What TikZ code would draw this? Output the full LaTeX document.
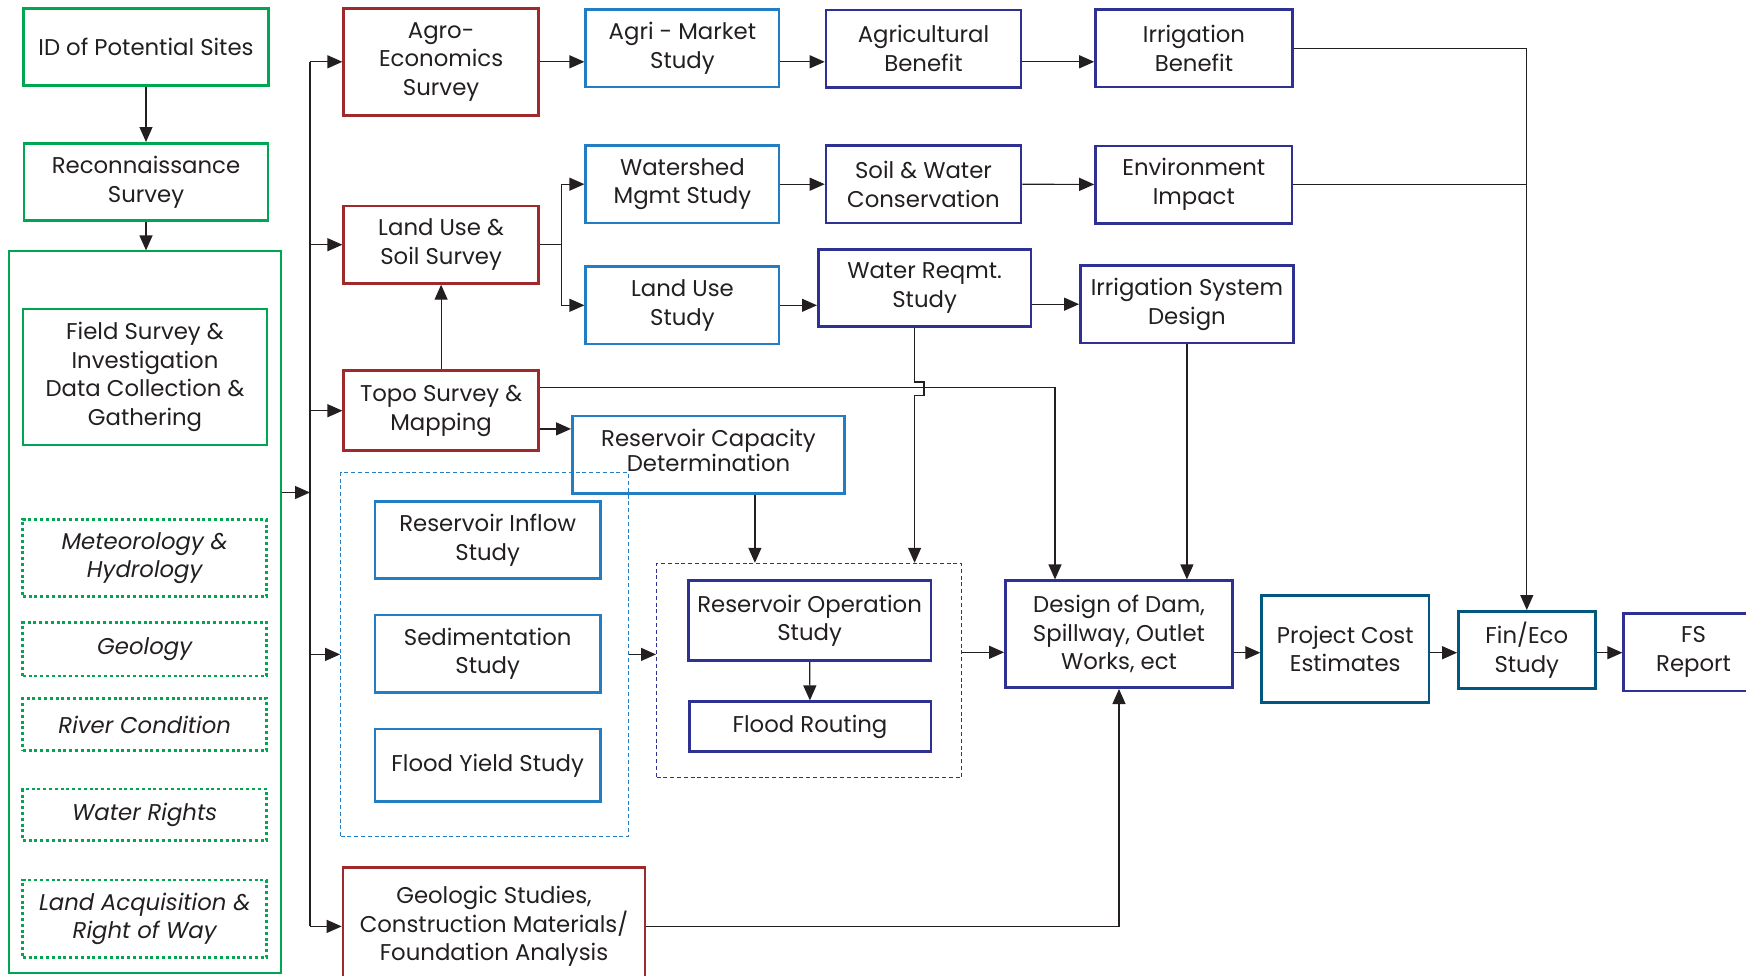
\documentclass[tikz,border=0pt]{standalone}
\usepackage{fontspec}
\setmainfont{Poppins}
\usetikzlibrary{arrows.meta}

\definecolor{sitegreen}{RGB}{0,166,81}
\definecolor{survred}{RGB}{158,42,43}
\definecolor{studyblue}{RGB}{35,125,195}
\definecolor{resultblue}{RGB}{46,49,146}
\definecolor{costteal}{RGB}{0,88,128}
\definecolor{linegray}{RGB}{35,31,32}

\tikzset{
  procbox/.style={draw, line width=1.3pt, align=center, inner sep=0pt, text=linegray,
    font=\fontsize{11.4}{14.3}\selectfont, minimum width=97.4pt, minimum height=38.7pt},
  sitebox/.style={procbox, draw=sitegreen, minimum width=122pt},
  databox/.style={sitebox, dash pattern=on 1.5pt off 1.4pt, font=\fontsize{11.4}{14.3}\selectfont\itshape},
  survbox/.style={procbox, draw=survred},
  studybox/.style={procbox, draw=studyblue},
  resultbox/.style={procbox, draw=resultblue},
  costbox/.style={procbox, draw=costteal},
  groupbox/.style={draw, line width=0.5pt, inner sep=0pt, dash pattern=on 2pt off 1.4pt},
  ln/.style={draw=linegray, line width=0.6pt},
  arr/.style={ln, -{Triangle[length=7.5pt,width=6.5pt]}}
}

\begin{document}
\begin{tikzpicture}[x=0.5pt,y=-0.5pt]
\useasboundingbox (0,0) rectangle (1746,975);
% site identification and field data
\node[sitebox, minimum width=122.5pt] (idsites) at (146,47) {ID of Potential Sites};
\node[sitebox] (recon) at (146,182) {Reconnaissance\\Survey};
\node[draw=sitegreen, line width=0.6pt, minimum width=136pt, minimum height=361pt, inner sep=0pt] (fieldgrp) at (145,612) {};
\node[sitebox, minimum height=68pt] (field) at (145,377) {Field Survey \&\\Investigation\\Data Collection \&\\Gathering};
\node[databox] (meteo) at (144.7,558) {Meteorology \&\\Hydrology};
\node[databox, minimum height=26.7pt] (geology) at (144.7,649.3) {Geology};
\node[databox, minimum height=26.2pt] (river) at (144.7,724.5) {River Condition};
\node[databox, minimum height=25.8pt] (wrights) at (144.7,814.8) {Water Rights};
\node[databox] (landacq) at (144.7,918.8) {Land Acquisition \&\\Right of Way};
% surveys
\node[survbox, minimum height=53.5pt] (agro) at (441.1,61.8) {Agro-\\Economics\\Survey};
\node[survbox] (landsoil) at (441.1,244.7) {Land Use \&\\Soil Survey};
\node[survbox, minimum height=40pt] (topo) at (441.1,410.7) {Topo Survey \&\\Mapping};
\node[survbox, minimum width=151pt, minimum height=59pt] (geologic) at (494,926.4) {Geologic Studies,\\Construction Materials/\\Foundation Analysis};
% studies
\node[studybox, minimum width=96.7pt] (agrimkt) at (682.4,48.3) {Agri - Market\\Study};
\node[studybox, minimum width=96.7pt] (watershed) at (682.4,184.2) {Watershed\\Mgmt Study};
\node[studybox, minimum width=96.7pt] (landuse) at (682.4,305.3) {Land Use\\Study};
\node[studybox, minimum width=136.2pt, text depth=4.6pt, font=\fontsize{11.4}{10.8}\selectfont] (rescap) at (708.5,454.7) {Reservoir Capacity\\Determination};
\node[groupbox, draw=studyblue, minimum width=144pt, minimum height=181.7pt] (resgrp) at (484.6,654.4) {};
\node[studybox, minimum width=112.7pt] (inflow) at (487.7,540) {Reservoir Inflow\\Study};
\node[studybox, minimum width=112.7pt] (sediment) at (487.7,653.7) {Sedimentation\\Study};
\node[studybox, minimum width=112.7pt, minimum height=36.4pt] (floodyield) at (487.7,765.3) {Flood Yield Study};
% results and design
\node[resultbox, minimum width=97.5pt] (agben) at (923.5,48.5) {Agricultural\\Benefit};
\node[resultbox, minimum width=98.5pt] (irrben) at (1194,48.3) {Irrigation\\Benefit};
\node[resultbox, minimum width=97.5pt] (soilwater) at (923.5,184.2) {Soil \& Water\\Conservation};
\node[resultbox, minimum width=98.3pt] (environ) at (1193.8,184.5) {Environment\\Impact};
\node[resultbox, minimum width=106.3pt] (waterreq) at (924.6,288) {Water Reqmt.\\Study};
\node[resultbox, minimum width=106.5pt] (irrsys) at (1186.9,304.2) {Irrigation System\\Design};
\node[groupbox, draw=resultblue, minimum width=152.5pt, minimum height=107.2pt] (opgrp) at (809,670.5) {};
\node[resultbox, minimum width=121.2pt, minimum height=40pt] (resop) at (809.6,620.7) {Reservoir Operation\\Study};
\node[resultbox, minimum width=120.8pt, minimum height=25pt] (floodrt) at (810,726.7) {Flood Routing};
\node[resultbox, minimum width=113.6pt, minimum height=53.5pt] (dam) at (1119,634.2) {Design of Dam,\\Spillway, Outlet\\Works, ect};
\node[costbox, minimum width=83.6pt, minimum height=53.7pt] (projcost) at (1345.2,649) {Project Cost\\Estimates};
\node[costbox, minimum width=68.4pt] (fineco) at (1526.8,650) {Fin/Eco\\Study};
\node[resultbox, minimum width=70pt] (fsreport) at (1693.6,652.2) {FS\\Report};
% connectors
\draw[arr] (idsites) -- (recon);
\draw[arr] (recon.south) -- (recon.south |- fieldgrp.north);
\coordinate (busin) at (310,492.5);
\draw[arr] (busin -| fieldgrp.east) -- (busin);
\draw[ln] (busin |- agro.west) -- (busin |- geologic.west);
\draw[arr] (busin |- agro.west) -- (agro.west);
\draw[arr] (busin |- landsoil.west) -- (landsoil.west);
\draw[arr] (busin |- topo.west) -- (topo.west);
\draw[arr] (busin |- resgrp.west) -- (resgrp.west);
\draw[arr] (busin |- geologic.west) -- (geologic.west);
\draw[arr] (agro.east) -- (agro.east -| agrimkt.west);
\draw[arr] (agrimkt.east |- agro.east) -- (agro.east -| agben.west);
\draw[arr] (agben.east |- agro.east) -- (agro.east -| irrben.west);
\draw[arr] (irrben.east) -| (fineco.north);
\draw[ln] (environ.east) -- (environ.east -| fineco.north);
\coordinate (split) at (561.4,244.7);
\draw[ln] (landsoil.east) -- (split);
\draw[arr] (split) |- (watershed.west);
\draw[arr] (split) |- (landuse.west);
\draw[arr] (watershed) -- (soilwater);
\draw[arr] (soilwater) -- (environ);
\draw[arr] (landuse.east) -- (landuse.east -| waterreq.west);
\draw[arr] (waterreq.east |- irrsys.west) -- (irrsys.west);
\draw[arr] (topo) -- (landsoil);
\draw[arr] ([yshift=11.7pt]topo.east) -| ([xshift=-32pt]dam.north);
\draw[arr] ([yshift=-9.1pt]topo.east) -- ([yshift=-9.1pt]topo.east -| rescap.west);
\draw[arr] ([xshift=23.2pt]rescap.south) -- ([xshift=23.2pt]rescap.south |- opgrp.north);
\draw[arr] ([xshift=-5pt]waterreq.south) -- ++(0,54) -- ++(9.3,0) -- ++(0,13.3) -- ++(-9.3,0)
  -- ([xshift=-5pt]waterreq.south |- opgrp.north);
\draw[arr] (irrsys.south) -- (irrsys.south |- dam.north);
\draw[arr] (resgrp.east) -- (resgrp.east -| opgrp.west);
\draw[arr] (resop) -- (floodrt);
\draw[arr] ([yshift=9.1pt]opgrp.east) -- ([yshift=9.1pt]opgrp.east -| dam.west);
\draw[arr] ([yshift=-9.25pt]dam.east) -- ([yshift=-9.25pt]dam.east -| projcost.west);
\draw[arr] ([yshift=-9.25pt]dam.east -| projcost.east) -- ([yshift=-9.25pt]dam.east -| fineco.west);
\draw[arr] ([yshift=-9.25pt]dam.east -| fineco.east) -- ([yshift=-9.25pt]dam.east -| fsreport.west);
\draw[arr] (geologic.east) -| (dam.south);
\end{tikzpicture}
\end{document}
